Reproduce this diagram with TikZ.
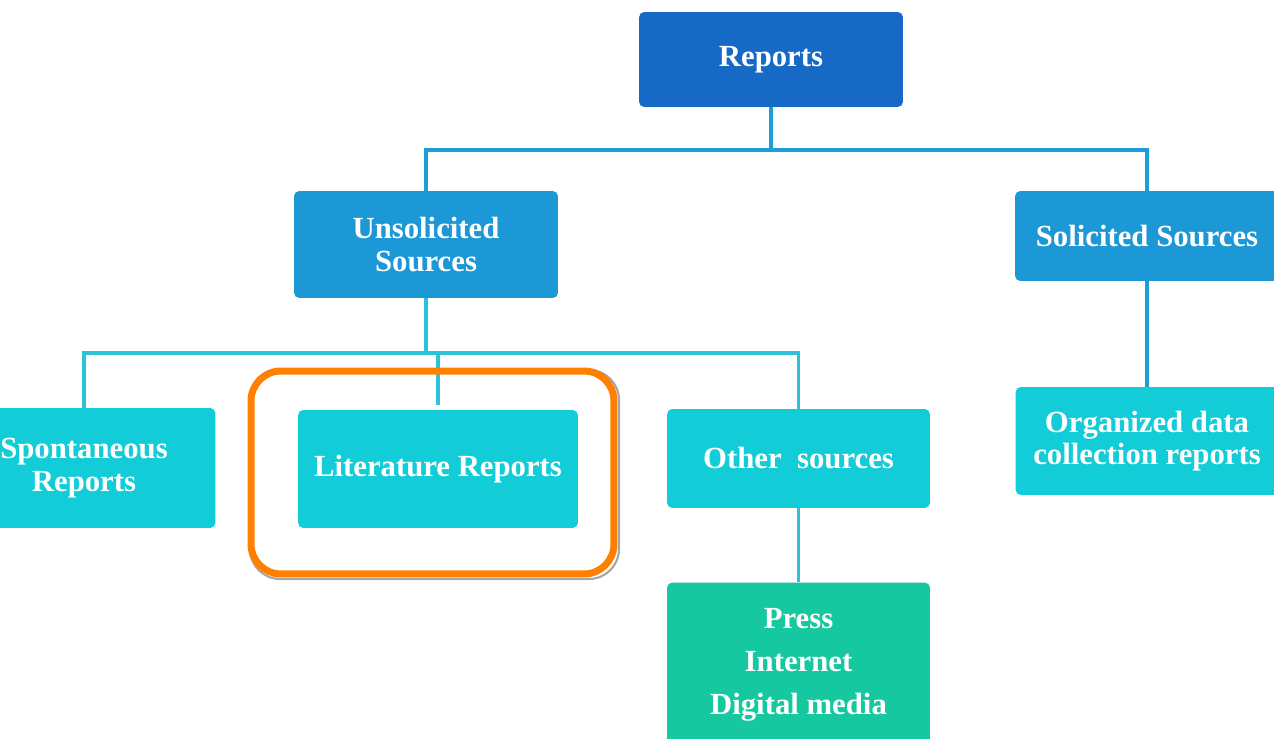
\documentclass[tikz,border=0pt]{standalone}
\usepackage{fontspec}
\setmainfont{Liberation Serif}
\usetikzlibrary{positioning}
\definecolor{topblue}{RGB}{22,106,198}
\definecolor{midblue}{RGB}{28,152,214}
\definecolor{boxcyan}{RGB}{18,205,216}
\definecolor{boxgreen}{RGB}{22,200,160}
\definecolor{lineblue}{RGB}{30,158,214}
\definecolor{linecyan}{RGB}{44,194,216}
\definecolor{hilite}{RGB}{255,127,0}
\begin{document}
\begin{tikzpicture}[x=0.02cm,y=-0.02cm] % 1 unit = 1 px
\tikzstyle{mybox} = [rounded corners=3pt, text=white, align=center, inner sep=0pt, font=\fontsize{17.5}{18.5}\selectfont\bfseries] % common box style
\tikzstyle{myroot} = [mybox, fill=topblue, minimum width=5.28cm, minimum height=1.9cm] % top box
\tikzstyle{mymid} = [mybox, fill=midblue, minimum width=5.28cm] % second level
\tikzstyle{myleaf} = [mybox, fill=boxcyan, minimum width=5.26cm] % leaves
\tikzstyle{myline} = [line width=2.2pt] % connectors
\useasboundingbox (0,0) rectangle (1274,739);
% boxes
\node[myroot] (rep) at (771,59.5) {Reports};
\node[mymid, minimum height=2.14cm] (uns) at (426,244.5) {Unsolicited\\Sources};
\node[mymid, minimum height=1.8cm] (sol) at (1147,236) {Solicited Sources};
\node[myleaf, minimum height=2.4cm] (spo) at (84,468) {Spontaneous\\Reports};
\node[myleaf, minimum width=5.6cm, minimum height=2.36cm] (lit) at (438,469) {Literature Reports};
\node[myleaf, minimum height=1.98cm] (oth) at (798.5,458.5) {Other\ \ sources};
\node[myleaf, minimum height=2.16cm] (org) at (1147,441) {Organized data\\collection reports};
\node[mybox, fill=boxgreen, minimum width=5.26cm, minimum height=3.3cm, font=\fontsize{17.5}{24.5}\selectfont\bfseries] (pre) at (798.5,665) {Press\\Internet\\Digital media};
% bus points
\coordinate (busA) at (771,150);
\coordinate (busB) at (426,353);
% connectors
\draw[myline, lineblue] (rep.south) -- (busA) -| (uns.north);
\draw[myline, lineblue] (busA) -| (sol.north);
\draw[myline, linecyan] (uns.south) -- (busB) -| (spo.north);
\draw[myline, linecyan] (busB) -| (oth.north);
\draw[myline, linecyan] (busB -| lit.north) -- ([yshift=0.1cm]lit.north);
\draw[myline, lineblue] (sol.south) -- (org.north);
\draw[myline, linecyan] (oth.south) -- (pre.north);
% highlight
\node[draw=black!35, line width=1.2pt, rounded corners=17pt, minimum width=7.38cm, minimum height=4.18cm] (hlsh) at (434.5,474.5) {};
\node[draw=hilite, line width=4pt, rounded corners=17pt, minimum width=7.26cm, minimum height=4.06cm] (hl) at (432.5,472.5) {};
\end{tikzpicture}
\end{document}
